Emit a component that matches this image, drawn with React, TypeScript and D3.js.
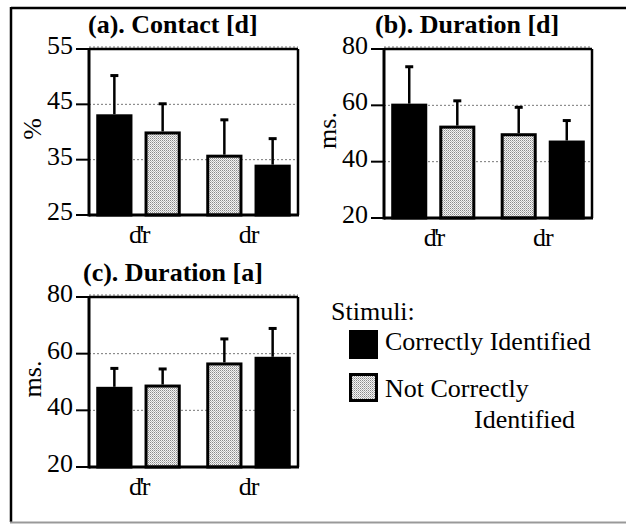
import React from "react";
import * as d3 from "d3";

const categories = ["d'r", "dr"];
const legendTitle = "Stimuli:";
const seriesNames = ["Correctly Identified", "Not Correctly Identified"];

const contactTicks = [25, 35, 45, 55];
const durationTicks = [20, 40, 60, 80];

// (a) Contact [d], %
const contactCorrect = [43.2, 34.1];
const contactCorrectErr = [7.0, 4.7];
const contactNot = [40.1, 35.9];
const contactNotErr = [5.0, 6.3];

// (b) Duration [d], ms
const durDCorrect = [60.6, 47.5];
const durDCorrectErr = [13.1, 7.1];
const durDNot = [52.8, 50.1];
const durDNotErr = [8.8, 9.2];

// (c) Duration [a], ms
const durACorrect = [48.3, 58.9];
const durACorrectErr = [6.5, 10.0];
const durANot = [49.1, 56.9];
const durANotErr = [5.5, 8.3];

// bar order inside each category: d'r -> correct, not ; dr -> not, correct
const barOrder = [["correct", "not"], ["not", "correct"]];

type Box = { x0: number; x1: number; y0: number; y1: number };

function Panel(props: {
  box: Box;
  title: string;
  titleX: number;
  yLabel: string;
  ticks: number[];
  correct: number[];
  correctErr: number[];
  not: number[];
  notErr: number[];
}) {
  const { box, title, titleX, yLabel, ticks, correct, correctErr, not, notErr } = props;
  const y = d3.scaleLinear().domain([ticks[0], ticks[ticks.length - 1]]).range([box.y1, box.y0]);
  const xOuter = d3.scaleBand().domain(categories).range([box.x0, box.x1]).paddingInner(0.1).paddingOuter(0);
  const xInner = d3.scaleBand().domain(["0", "1"]).range([0, xOuter.bandwidth()]).paddingInner(0.25).paddingOuter(0.15);

  const bars: { x: number; w: number; v: number; e: number; kind: string }[] = [];
  categories.forEach((c, ci) => {
    barOrder[ci].forEach((kind, bi) => {
      const v = kind === "correct" ? correct[ci] : not[ci];
      const e = kind === "correct" ? correctErr[ci] : notErr[ci];
      bars.push({ x: (xOuter(c) as number) + (xInner(String(bi)) as number), w: xInner.bandwidth(), v, e, kind });
    });
  });

  const midY = (box.y0 + box.y1) / 2 - 3;
  const topT = ticks[ticks.length - 1];
  return (
    <g>
      <text x={titleX} y={box.y0 - 16} fontWeight="bold" fontSize={26} fill="#000">
        {title}
      </text>
      {ticks.map((t) => (
        <line key={"g" + t} x1={box.x0} x2={box.x1} y1={y(t) - (t === topT ? 2 : 0)} y2={y(t) - (t === topT ? 2 : 0)} stroke="#777" strokeWidth={1} strokeDasharray="2,2" />
      ))}
      {bars.map((b, i) => (
        <g key={"b" + i}>
          <line x1={b.x + b.w / 2} x2={b.x + b.w / 2} y1={y(b.v)} y2={y(b.v + b.e)} stroke="#000" strokeWidth={2.5} />
          <line x1={b.x + b.w / 2 - 4} x2={b.x + b.w / 2 + 4} y1={y(b.v + b.e)} y2={y(b.v + b.e)} stroke="#000" strokeWidth={3} />
          <rect
            x={b.x + 1.5}
            y={y(b.v) + 1.5}
            width={b.w - 3}
            height={box.y1 - y(b.v) - 1.5}
            fill={b.kind === "correct" ? "#000" : "url(#stipple)"}
            stroke="#000"
            strokeWidth={3}
          />
        </g>
      ))}
      <line x1={box.x0} x2={box.x1} y1={box.y0} y2={box.y0} stroke="#000" strokeWidth={2.5} />
      <line x1={box.x1} x2={box.x1} y1={box.y0} y2={box.y1} stroke="#000" strokeWidth={2.5} />
      <line x1={box.x0} x2={box.x1 + 1} y1={box.y1} y2={box.y1} stroke="#000" strokeWidth={3} />
      <line x1={box.x0} x2={box.x0} y1={box.y0 - 1} y2={box.y1 + 1.5} stroke="#000" strokeWidth={3} />
      {ticks.map((t) => (
        <g key={"t" + t}>
          <line x1={box.x0 - 13} x2={box.x0} y1={y(t)} y2={y(t)} stroke="#000" strokeWidth={2} />
          <text x={box.x0 - 16} y={y(t) + 5} textAnchor="end" fontSize={26} fill="#000">
            {t}
          </text>
        </g>
      ))}
      {categories.map((c) => (
        <text key={c} x={(xOuter(c) as number) + xOuter.bandwidth() / 2} y={box.y1 + 28} textAnchor="middle" fontSize={26} letterSpacing={c === "d'r" ? -2.5 : -1} fill="#000">
          {c}
        </text>
      ))}
      <text
        transform={`translate(${box.x0 - 57},${midY}) rotate(-90)`}
        textAnchor="middle"
        dominantBaseline="central"
        fontSize={26}
        fill="#000"
      >
        {yLabel}
      </text>
    </g>
  );
}

export default function App() {
  return (
    <svg width={626} height={525} style={{ position: "absolute", left: 0, top: 0, fontFamily: "Liberation Serif" }}>
      <defs>
        <pattern id="stipple" width={2} height={2} patternUnits="userSpaceOnUse">
          <rect width={2} height={2} fill="#f4f4f4" />
          <rect x={0} y={0} width={1} height={1} fill="#8a8a8a" />
          <rect x={1} y={1} width={1} height={1} fill="#b8b8b8" />
        </pattern>
      </defs>
      <rect x={0} y={0} width={626} height={525} fill="#fff" />
      <line x1={11} x2={626} y1={8} y2={8} stroke="#000" strokeWidth={2.5} />
      <line x1={11} x2={11} y1={7} y2={522} stroke="#000" strokeWidth={2.5} />
      <line x1={10} x2={626} y1={522.5} y2={522.5} stroke="#999" strokeWidth={2} />

      <Panel
        box={{ x0: 89, x1: 298, y0: 49, y1: 215 }}
        title="(a). Contact [d]"
        titleX={88}
        yLabel="%"
        ticks={contactTicks}
        correct={contactCorrect}
        correctErr={contactCorrectErr}
        not={contactNot}
        notErr={contactNotErr}
      />
      <Panel
        box={{ x0: 384, x1: 592, y0: 49, y1: 218 }}
        title="(b). Duration [d]"
        titleX={375}
        yLabel="ms."
        ticks={durationTicks}
        correct={durDCorrect}
        correctErr={durDCorrectErr}
        not={durDNot}
        notErr={durDNotErr}
      />
      <Panel
        box={{ x0: 89, x1: 298, y0: 297, y1: 467 }}
        title="(c). Duration [a]"
        titleX={83}
        yLabel="ms."
        ticks={durationTicks}
        correct={durACorrect}
        correctErr={durACorrectErr}
        not={durANot}
        notErr={durANotErr}
      />

      <text x={331} y={320} fontSize={26} fill="#000">{legendTitle}</text>
      <rect x={349} y={330} width={29} height={29} fill="#000" />
      <text x={385} y={350} fontSize={26} fill="#000">{seriesNames[0]}</text>
      <rect x={350.5} y={374.5} width={26} height={26} fill="url(#stipple)" stroke="#000" strokeWidth={3} />
      <text x={385} y={397} fontSize={26} fill="#000">Not Correctly</text>
      <text x={474} y={428} fontSize={26} fill="#000">Identified</text>
    </svg>
  );
}
